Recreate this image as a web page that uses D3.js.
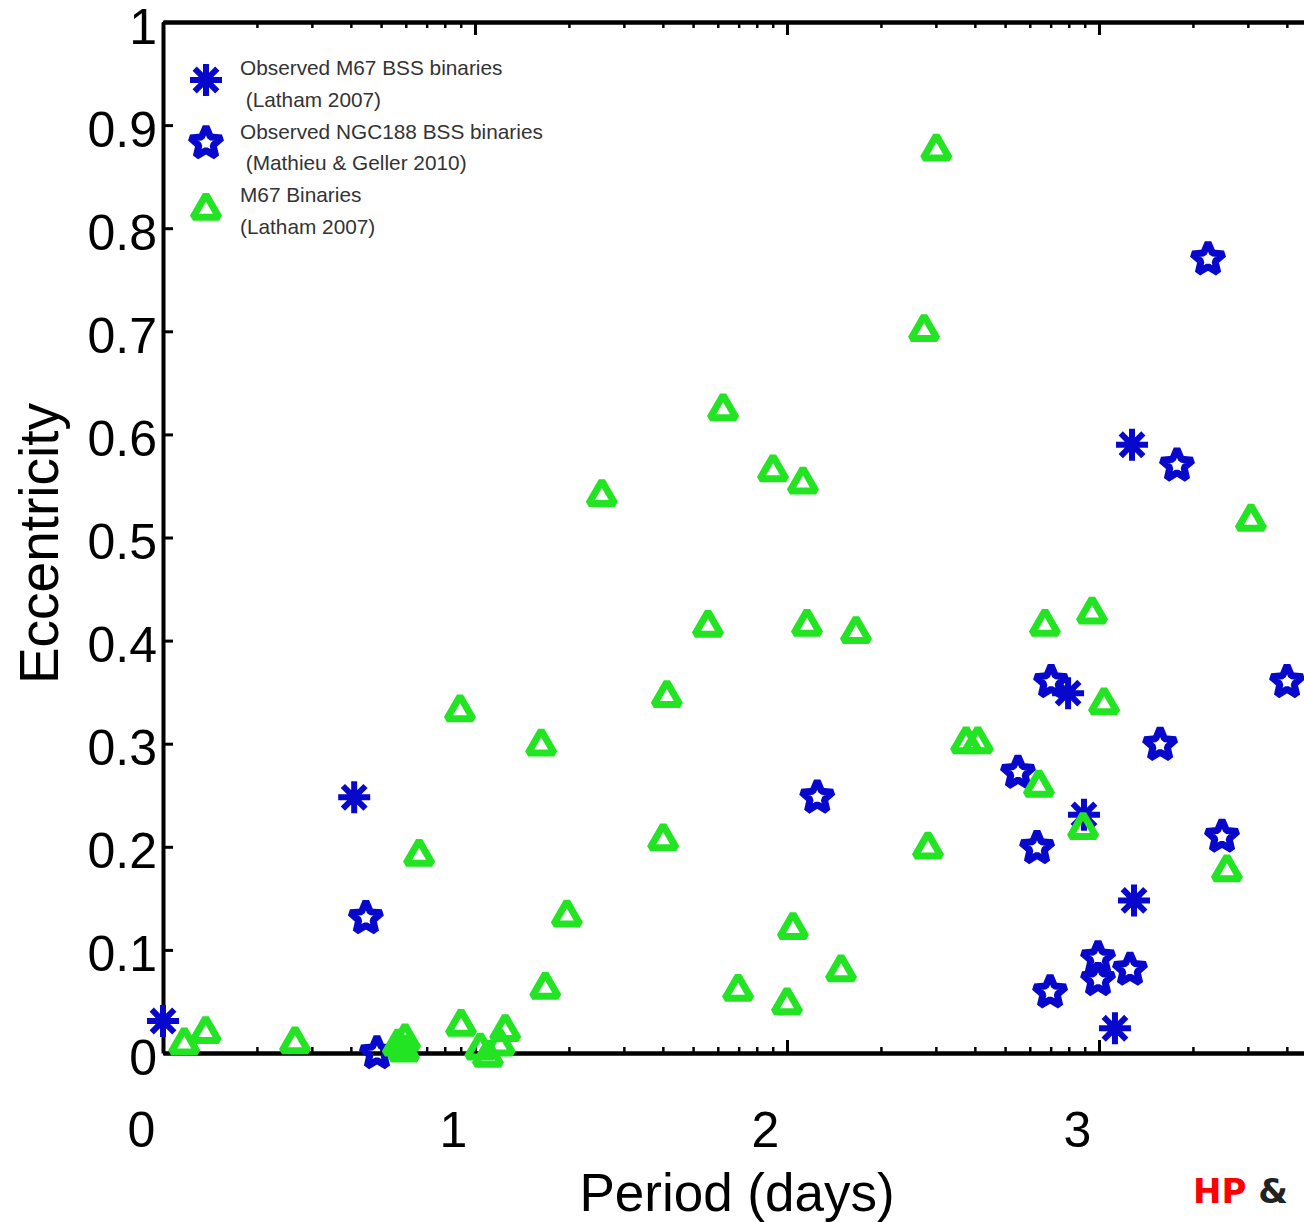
<!DOCTYPE html>
<html>
<head>
<meta charset="utf-8">
<script src="https://cdn.jsdelivr.net/npm/d3@7"></script>
<style>
    body { margin: 0; background: #fff; }
    svg { display: block; font-family: "Liberation Sans", Arial, sans-serif; }
</style>
</head>
<body>
<div class="ecc-plot"></div>
<script>
const width = 1304,
    height = 1222,
    margin = { top: 22, left: 163, bottom: 169 },
    decadeWidth = 312;

const blue = "#0808cc",
    green = "#22e422";

// Observed M67 BSS binaries (Latham 2007): period in days, eccentricity
const m67BssPeriod = [1.0, 4.10, 796, 895, 1125, 1276, 1295];
const m67BssEcc = [0.031, 0.248, 0.349, 0.231, 0.024, 0.590, 0.148];

// Observed NGC188 BSS binaries (Mathieu & Geller 2010)
const ngcBssPeriod = [2236, 1778, 4006, 702, 1570, 550, 125, 633, 2479, 4.47, 993, 993, 1257, 697, 4.85];
const ngcBssEcc = [0.770, 0.570, 0.360, 0.360, 0.299, 0.272, 0.248, 0.199, 0.210, 0.131, 0.092, 0.071, 0.081, 0.059, 0.0];

// M67 binaries (Latham 2007)
const m67BinPeriod = [301, 275, 62.4, 90.2, 112.5, 25.5, 3069, 950, 55.8, 115.9, 166.4, 671,
    41.2, 8.95, 1038, 16.3, 375, 409, 642, 40.1, 283, 889, 2570, 6.62, 19.7, 104.5, 149,
    16.8, 69.7, 100, 1.37, 1.17, 2.65, 5.66, 5.97, 5.92, 9.02, 10.4, 11.0, 12.5, 12.0];
const m67BinEcc = [0.879, 0.704, 0.627, 0.568, 0.556, 0.544, 0.520, 0.430, 0.417, 0.418, 0.411, 0.418,
    0.349, 0.335, 0.342, 0.302, 0.304, 0.304, 0.262, 0.210, 0.202, 0.221, 0.180, 0.195, 0.136, 0.124, 0.083,
    0.066, 0.064, 0.051, 0.023, 0.012, 0.013, 0.011, 0.016, 0.005, 0.030, 0.007, 0.0, 0.025, 0.011];

// Tick values (labels are log10 of the period)
const xMajorTicks = [1, 10, 100, 1000];
const xMinorTicks = [];
xMajorTicks.forEach(p => { for (let k = 2; k < 10; k++) xMinorTicks.push(p * k) });
const yTicks = [0, 0.1, 0.2, 0.3, 0.4, 0.5, 0.6, 0.7, 0.8, 0.9, 1];

const legendItems = [
    { shape: "asterisk", color: blue, lines: ["Observed M67 BSS binaries", " (Latham 2007)"] },
    { shape: "star", color: blue, lines: ["Observed NGC188 BSS binaries", " (Mathieu & Geller 2010)"] },
    { shape: "triangle", color: green, lines: ["M67 Binaries", "(Latham 2007)"] }
];

// scales
const x = d3.scaleLog()
    .domain([1, 10000])
    .range([margin.left, margin.left + 4 * decadeWidth]);
const y = d3.scaleLinear()
    .domain([0, 1])
    .range([height - margin.bottom, margin.top]);

// marker paths centred on 0,0
function asteriskPath(r) {
    let p = "";
    for (let i = 0; i < 4; i++) {
        const a = i * Math.PI / 4;
        p += `M${-r * Math.cos(a)},${-r * Math.sin(a)}L${r * Math.cos(a)},${r * Math.sin(a)}`;
    }
    return p;
}
function starPath(R, r) {
    const pts = [];
    for (let i = 0; i < 10; i++) {
        const a = -Math.PI / 2 + i * Math.PI / 5;
        const rr = i % 2 ? r : R;
        pts.push([rr * Math.cos(a), rr * Math.sin(a)]);
    }
    return "M" + pts.map(p => p.join(",")).join("L") + "Z";
}
function trianglePath(s) {
    const h = s * Math.sqrt(3) / 2;
    return `M0,${-h / 2}L${s / 2},${h / 2}L${-s / 2},${h / 2}Z`;
}
const shapes = {
    asterisk: { d: asteriskPath(16), width: 6, join: "miter" },
    star: { d: starPath(16.5, 7.5), width: 7, join: "bevel" },
    triangle: { d: trianglePath(26), width: 7, join: "bevel" }
};

const svg = d3.select(".ecc-plot")
    .append("svg")
    .attr("width", width)
    .attr("height", height);

svg.append("rect").attr("width", width).attr("height", height).attr("fill", "#fff");

// axes
function styleAxis(g, lineW) {
    g.select(".domain").attr("stroke", "#000").attr("stroke-width", 4);
    g.selectAll(".tick line").attr("stroke", "#000").attr("stroke-width", lineW);
    g.selectAll(".tick text")
        .attr("fill", "#000")
        .attr("font-size", 50)
        .attr("font-family", "'Liberation Sans', Arial, sans-serif");
}

svg.append("g")
    .attr("transform", `translate(0, ${y(0)})`)
    .call(d3.axisBottom(x).tickValues(xMinorTicks).tickFormat("").tickSize(-6).tickSizeOuter(0))
    .call(g => styleAxis(g, 2.5));
svg.append("g")
    .attr("transform", `translate(0, ${y(1)})`)
    .call(d3.axisTop(x).tickValues(xMinorTicks).tickFormat("").tickSize(-6).tickSizeOuter(0))
    .call(g => styleAxis(g, 2.5));

svg.append("g")
    .attr("class", "x-axis")
    .attr("transform", `translate(0, ${y(0)})`)
    .call(d3.axisBottom(x)
        .tickValues(xMajorTicks)
        .tickFormat(d => Math.round(Math.log10(d)))
        .tickSize(-13)
        .tickSizeOuter(0)
        .tickPadding(58))
    .call(g => styleAxis(g, 3))
    .call(g => g.selectAll(".tick text").attr("dx", -22));

svg.append("g")
    .attr("transform", `translate(0, ${y(1)})`)
    .call(d3.axisTop(x).tickValues(xMajorTicks).tickFormat("").tickSize(-13).tickSizeOuter(0))
    .call(g => styleAxis(g, 3));

svg.append("g")
    .attr("class", "y-axis")
    .attr("transform", `translate(${x(1)}, 0)`)
    .call(d3.axisLeft(y)
        .tickValues(yTicks)
        .tickFormat(d => d3.format("")(+d.toFixed(1)))
        .tickSize(-10)
        .tickSizeOuter(0)
        .tickPadding(6))
    .call(g => styleAxis(g, 3))
    .call(g => g.selectAll(".tick text").attr("dy", "0.42em"));

// axis titles
svg.append("text")
    .text("Period (days)")
    .attr("x", 737)
    .attr("y", 1211)
    .attr("text-anchor", "middle")
    .attr("font-size", 53)
    .attr("fill", "#000");

svg.append("text")
    .text("Eccentricity")
    .attr("transform", `translate(58, ${y(0.5) + 6}) rotate(-90)`)
    .attr("text-anchor", "middle")
    .attr("font-size", 55)
    .attr("fill", "#000");

// markers
function drawMarkers(periods, eccs, shape, color) {
    const s = shapes[shape];
    svg.append("g")
        .selectAll("path")
        .data(d3.zip(periods, eccs))
        .join("path")
        .attr("transform", d => `translate(${x(d[0])}, ${y(d[1])})`)
        .attr("d", s.d)
        .attr("fill", "none")
        .attr("stroke", color)
        .attr("stroke-width", s.width)
        .attr("stroke-linejoin", s.join);
}
drawMarkers(ngcBssPeriod, ngcBssEcc, "star", blue);
drawMarkers(m67BssPeriod, m67BssEcc, "asterisk", blue);
drawMarkers(m67BinPeriod, m67BinEcc, "triangle", green);

// legend
const legend = svg.append("g").attr("class", "legend");
legendItems.forEach((item, i) => {
    const s = shapes[item.shape];
    legend.append("path")
        .attr("transform", `translate(206, ${80 + i * 63})`)
        .attr("d", s.d)
        .attr("fill", "none")
        .attr("stroke", item.color)
        .attr("stroke-width", s.width)
        .attr("stroke-linejoin", s.join);
    item.lines.forEach((line, j) => {
        legend.append("text")
            .text(line)
            .attr("x", 240)
            .attr("y", 75 + i * 63.5 + j * 31.5)
            .attr("xml:space", "preserve")
            .style("white-space", "pre")
            .attr("font-size", 20.8)
            .attr("fill", "#333");
    });
});

// corner credit
const credit = svg.append("text")
    .attr("x", 1193)
    .attr("y", 1203)
    .attr("font-family", "'DejaVu Sans', sans-serif")
    .attr("font-weight", "bold")
    .attr("font-size", 34);
credit.append("tspan").attr("fill", "#ff0000").text("HP");
credit.append("tspan").attr("fill", "#222").text(" &");
</script>
</body>
</html>
